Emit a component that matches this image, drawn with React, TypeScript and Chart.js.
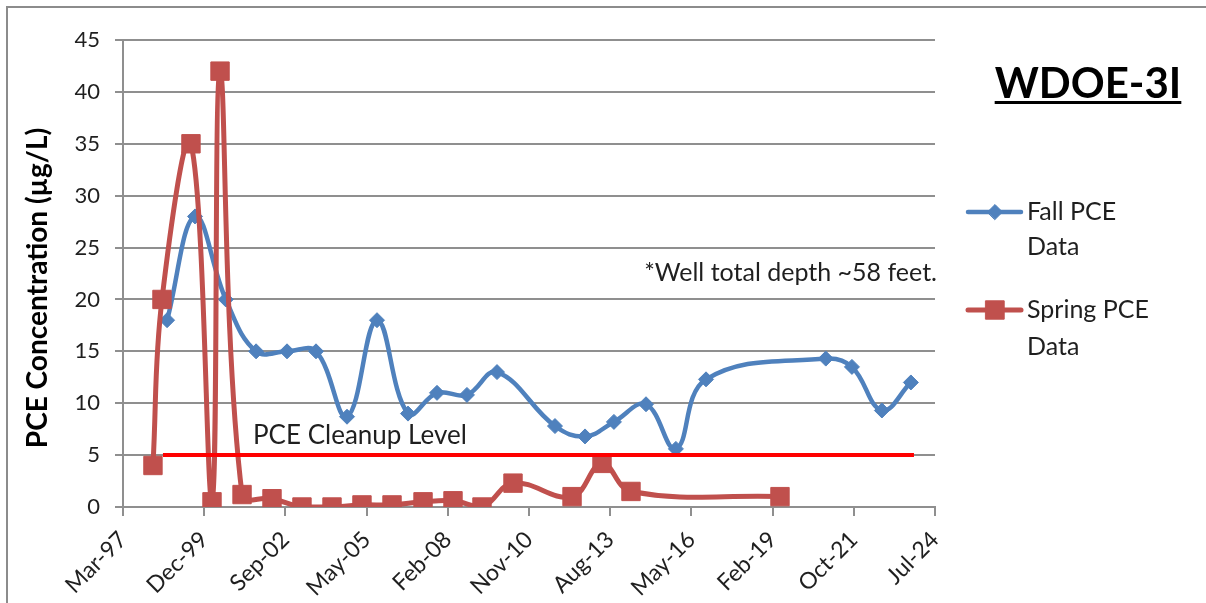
import { useEffect, useRef } from 'react';
import { Chart, registerables } from 'chart.js';

Chart.register(...registerables);

// ---- Data ----
const xTickLabels = ['Mar-97', 'Dec-99', 'Sep-02', 'May-05', 'Feb-08', 'Nov-10', 'Aug-13', 'May-16', 'Feb-19', 'Oct-21', 'Jul-24'];
const xAxisStartDate = '1997-03-11';
const xTickStepDays = 1000;

const yMin = 0;
const yMax = 45;
const yStep = 5;

const fallDates = [
  '1998-09-05', '1999-08-15', '2000-08-28', '2001-09-05', '2002-09-21', '2003-09-13',
  '2004-09-29', '2005-10-03', '2006-10-20', '2007-10-12', '2008-10-15', '2009-10-20',
  '2011-10-04', '2012-10-08', '2013-09-29', '2014-10-29', '2015-11-01', '2016-11-06',
  '2020-11-20', '2021-10-08', '2022-10-12', '2023-10-04',
];
const fallValues = [
  18, 28, 20, 15, 15, 15,
  8.7, 18, 9.0, 11.0, 10.8, 13.0,
  7.8, 6.8, 8.2, 9.9, 5.6, 12.3,
  14.3, 13.5, 9.3, 12.0,
];

const springDates = [
  '1998-03-15', '1998-07-04', '1999-06-26', '2000-03-11', '2000-06-18', '2001-03-16',
  '2002-03-20', '2003-03-24', '2004-03-28', '2005-04-01', '2006-04-06', '2007-04-23',
  '2008-04-26', '2009-04-18', '2010-05-05', '2012-05-01', '2013-05-05', '2014-04-27',
  '2019-05-06',
];
const springValues = [
  4, 20, 35, 0.5, 42, 1.2,
  0.8, 0, 0, 0.2, 0.2, 0.5,
  0.6, 0, 2.3, 1.0, 4.2, 1.5,
  1.0,
];

const cleanupDates = ['1998-07-16', '2023-11-11'];
const cleanupValues = [5, 5];

const seriesNames = ['Fall PCE Data', 'Spring PCE Data'];
const chartTitle = 'WDOE-3I';
const yAxisTitle = 'PCE Concentration (µg/L)';
const cleanupLabel = 'PCE Cleanup Level';
const noteText = '*Well total depth ~58 feet.';

// ---- helpers ----
const DAY = 86400000;
const toDays = (s: string) => Date.parse(s + 'T00:00:00Z') / DAY;
const xStart = toDays(xAxisStartDate);
const xEnd = xStart + xTickStepDays * (xTickLabels.length - 1);
const toPoints = (dates: string[], vals: number[]) => dates.map((d, i) => ({ x: toDays(d), y: vals[i] }));

const BLUE = '#4F81BD';
const RED = '#C0504D';
const FONT = 'Lato, "Noto Sans", sans-serif';
const TEXT = '#1f1f1f';
const GRID = '#8f8f8f';

function drawMarker(ctx: CanvasRenderingContext2D, style: string, x: number, y: number, r: number, color: string) {
  ctx.save();
  ctx.fillStyle = color;
  ctx.strokeStyle = color;
  ctx.lineWidth = 1;
  ctx.beginPath();
  if (style === 'rect') {
    const s = Math.SQRT1_2 * r;
    ctx.rect(x - s, y - s, 2 * s, 2 * s);
  } else {
    ctx.moveTo(x - r, y);
    ctx.lineTo(x, y - r);
    ctx.lineTo(x + r, y);
    ctx.lineTo(x, y + r);
    ctx.closePath();
  }
  ctx.fill();
  ctx.stroke();
  ctx.restore();
}

const overlayPlugin = {
  id: 'overlay',
  beforeDraw(chart: any) {
    const ctx: CanvasRenderingContext2D = chart.ctx;
    ctx.save();
    ctx.fillStyle = '#ffffff';
    ctx.fillRect(0, 0, chart.width, chart.height);
    ctx.strokeStyle = '#8c8c8c';
    ctx.lineWidth = 2;
    ctx.beginPath();
    ctx.moveTo(7, chart.height);
    ctx.lineTo(7, 7);
    ctx.lineTo(chart.width, 7);
    ctx.stroke();
    ctx.restore();
  },
  afterDraw(chart: any) {
    const ctx: CanvasRenderingContext2D = chart.ctx;
    ctx.save();
    // Title
    ctx.fillStyle = '#000';
    ctx.font = `bold 42px ${FONT}`;
    ctx.textAlign = 'center';
    ctx.textBaseline = 'alphabetic';
    const tx = 1088;
    ctx.fillText(chartTitle, tx, 98);
    const tw = ctx.measureText(chartTitle).width;
    ctx.fillRect(tx - tw / 2, 101, tw, 3);

    // Y-axis title
    ctx.save();
    ctx.translate(38, 288);
    ctx.rotate(-Math.PI / 2);
    ctx.font = `bold 28px ${FONT}`;
    ctx.textAlign = 'center';
    ctx.textBaseline = 'middle';
    ctx.fillStyle = '#000';
    ctx.fillText(yAxisTitle, 0, 0);
    ctx.restore();

    // Note
    ctx.font = `25px ${FONT}`;
    ctx.fillStyle = TEXT;
    ctx.textAlign = 'right';
    ctx.textBaseline = 'middle';
    ctx.fillText(noteText, 937, 273);

    // Cleanup label
    ctx.font = `26px ${FONT}`;
    ctx.textAlign = 'left';
    ctx.fillText(cleanupLabel, 253, 436);

    // Legend
    const items = [
      { ds: chart.data.datasets[2], y: 212, y2: 247 },
      { ds: chart.data.datasets[1], y: 310, y2: 347 },
    ];
    items.forEach((it, i) => {
      ctx.strokeStyle = it.ds.borderColor;
      ctx.lineWidth = it.ds.borderWidth;
      ctx.lineCap = 'round';
      ctx.beginPath();
      ctx.moveTo(968, it.y);
      ctx.lineTo(1021, it.y);
      ctx.stroke();
      drawMarker(ctx, it.ds.pointStyle, 995, it.y, it.ds.pointRadius, it.ds.pointBackgroundColor);
      const words = seriesNames[i].split(' ');
      const line1 = words.slice(0, -1).join(' ');
      const line2 = words[words.length - 1];
      ctx.fillStyle = TEXT;
      ctx.font = `25px ${FONT}`;
      ctx.textAlign = 'left';
      ctx.textBaseline = 'middle';
      ctx.fillText(line1, 1027, it.y);
      ctx.fillText(line2, 1027, it.y2);
    });
    ctx.restore();
  },
};

export default function App() {
  const ref = useRef<HTMLCanvasElement>(null);
  useEffect(() => {
    document.body.style.margin = '0';
    let chart: Chart | null = null;
    let cancelled = false;
    const fonts: any = (document as any).fonts;
    const ready = fonts
      ? Promise.all([fonts.load('22px Lato'), fonts.load('bold 22px Lato')]).catch(() => null)
      : Promise.resolve(null);
    ready.then(() => {
      if (cancelled || !ref.current) return;
      chart = new Chart(ref.current, {
        type: 'line',
        data: {
          datasets: [
            {
              label: 'PCE Cleanup Level',
              data: toPoints(cleanupDates, cleanupValues),
              borderColor: '#FF0000',
              borderWidth: 4,
              pointRadius: 0,
              tension: 0,
            },
            {
              label: seriesNames[1],
              data: toPoints(springDates, springValues),
              borderColor: RED,
              backgroundColor: RED,
              borderWidth: 5,
              pointStyle: 'rect',
              pointRadius: 13,
              pointBackgroundColor: RED,
              pointBorderColor: RED,
              pointBorderWidth: 1,
              tension: 0.4,
            },
            {
              label: seriesNames[0],
              data: toPoints(fallDates, fallValues),
              borderColor: BLUE,
              backgroundColor: BLUE,
              borderWidth: 4.5,
              pointStyle: 'rectRot',
              pointRadius: 7.5,
              pointBackgroundColor: BLUE,
              pointBorderColor: BLUE,
              pointBorderWidth: 1,
              tension: 0.4,
            },
          ],
        } as any,
        options: {
          animation: false,
          responsive: false,
          events: [],
          layout: { padding: { top: 40, right: 271, left: 0, bottom: 0 } },
          plugins: { legend: { display: false }, tooltip: { enabled: false }, title: { display: false } },
          scales: {
            x: {
              type: 'linear',
              min: xStart,
              max: xEnd,
              afterFit: (s: any) => { s.height = 96; },
              afterBuildTicks: (s: any) => {
                s.ticks = xTickLabels.map((_, i) => ({ value: xStart + i * xTickStepDays }));
              },
              ticks: {
                autoSkip: false,
                maxRotation: 45,
                minRotation: 45,
                padding: 10,
                color: TEXT,
                font: { family: FONT, size: 23 },
                callback: (_v: any, i: number) => xTickLabels[i],
              },
              grid: { drawOnChartArea: false, drawTicks: true, tickLength: 9, color: GRID, lineWidth: 2 },
              border: { display: true, color: GRID, width: 2 },
            },
            y: {
              min: yMin,
              max: yMax,
              afterFit: (s: any) => { s.width = 123; },
              ticks: {
                stepSize: yStep,
                padding: 15,
                color: TEXT,
                font: { family: FONT, size: 22 },
              },
              grid: { color: GRID, lineWidth: 2, tickLength: 8, drawTicks: true },
              border: { display: true, color: GRID, width: 2 },
            },
          },
        } as any,
        plugins: [overlayPlugin],
      });
    });
    return () => {
      cancelled = true;
      if (chart) chart.destroy();
    };
  }, []);
  return (
    <div style={{ width: 1206, height: 603, position: 'relative' }}>
      <canvas ref={ref} width={1206} height={603} style={{ display: 'block', width: 1206, height: 603 }} />
    </div>
  );
}
